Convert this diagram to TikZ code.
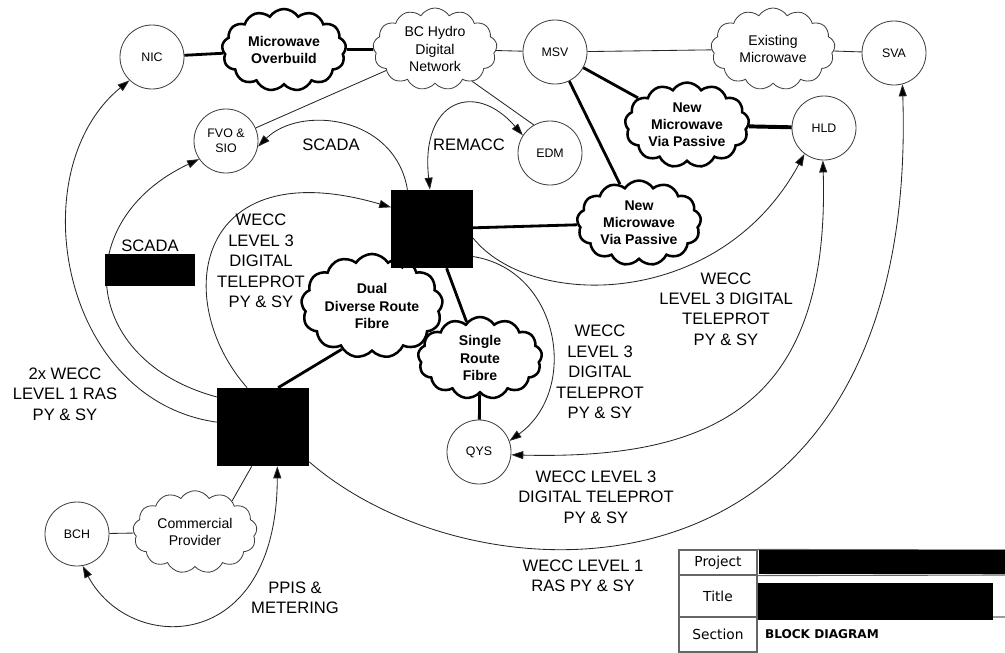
\documentclass[tikz,border=0pt]{standalone}
\usepackage{fontspec}
\setmainfont{Liberation Sans}
\newfontfamily\tabfont{DejaVu Sans}
\usetikzlibrary{positioning, arrows.meta, shapes.symbols}

\begin{document}
\begin{tikzpicture}[x=0.025cm, y=-0.025cm,
    site/.style={circle, draw=black!75, line width=0.6pt, minimum size=1.6cm, inner sep=0pt,
                 align=center, font=\fontsize{8.8}{10.6}\selectfont},
    netcloud/.style={cloud, cloud puffs=13, cloud puff arc=115, aspect=1.5, draw=black!75,
                  line width=0.6pt, minimum width=3.1cm, minimum height=2.05cm, inner sep=0pt,
                  align=center, font=\fontsize{10}{12.4}\selectfont},
    newcloud/.style={netcloud, draw=black, line width=1.8pt,
                  font=\fontsize{10}{12.2}\selectfont\bfseries},
    redact/.style={fill=black, inner sep=0pt},
    lbl/.style={align=center, inner sep=0pt, font=\fontsize{11.8}{14.5}\selectfont},
    trunk/.style={line width=2pt},
    link/.style={line width=0.6pt, draw=black!85},
    arr/.style={link, -{Triangle[length=3mm, width=2mm, fill=black]}},
    biarr/.style={link, {Triangle[length=3mm, width=2mm, fill=black]}-{Triangle[length=3mm, width=2mm, fill=black]}},
    cell/.style={draw=black!60, line width=0.8pt, minimum width=1.95cm, inner sep=0pt,
                 font=\tabfont\fontsize{9.8}{11}\selectfont},
    tabline/.style={draw=black!60, line width=0.8pt},
]
\useasboundingbox (0,0) rectangle (1005,652);

% Stations
\node[site] (nic) at (152,57)  {NIC};
\node[site] (fvo) at (226,141) {FVO \&\\SIO};
\node[site] (msv) at (555,52)  {MSV};
\node[site] (edm) at (550,153) {EDM};
\node[site] (sva) at (894,53)  {SVA};
\node[site] (hld) at (824,128) {HLD};
\node[site] (qys) at (479,452) {QYS};
\node[site] (bch) at (77,534)  {BCH};

% Networks
\node[newcloud] (mwo)   at (284,50)  {Microwave\\Overbuild};
\node[netcloud] (bchd)  at (435,49)  {BC Hydro\\Digital\\Network};
\node[netcloud] (exmw)  at (773,49)  {Existing\\Microwave};
\node[newcloud] (nmvp1) at (687,125) {New\\Microwave\\Via Passive};
\node[newcloud] (nmvp2) at (639,223) {New\\Microwave\\Via Passive};
\node[newcloud] (ddrf)  at (372,306) {Dual\\Diverse Route\\Fibre};
\node[newcloud] (srf)   at (480,358) {Single\\Route\\Fibre};
\node[netcloud] (comm)  at (195,532) {Commercial\\Provider};

% Redacted substations
\node[redact, minimum width=2.025cm, minimum height=1.95cm] (ubox) at (432,229) {};
\node[redact, minimum width=2.3cm, minimum height=1.95cm]   (lbox) at (263,427) {};

% Links
\draw[trunk] (nic) -- (mwo);
\draw[trunk] (mwo) -- (bchd);
\draw[link] (bchd) -- (msv);
\draw[link] (msv) -- (exmw);
\draw[link] (exmw) -- (sva);
\draw[trunk] (msv) -- (nmvp1);
\draw[trunk, line width=2.8pt] (nmvp1) -- (hld);
\draw[trunk] (msv) -- (nmvp2);
\draw[trunk] (ubox) -- (nmvp2);
\draw[trunk] (ubox) -- (ddrf);
\draw[trunk] (ubox) -- (srf);
\draw[trunk] (lbox.69) -- (ddrf.235);
\draw[trunk] (srf) -- (qys);
\draw[link] (bchd) -- (fvo);
\draw[link] (bchd.-41) -- (edm.120);
\draw[link] (bch) -- (comm);
\draw[link] (comm.40) -- (lbox.254);

% Services
\draw[arr] (ubox.122) .. controls (395,115) and (300,105) .. (fvo.-10);
\draw[biarr] (ubox.93) .. controls (420,100) and (475,80) .. (edm.147);
\draw[arr] (lbox.112) .. controls (170,300) and (195,150) .. (ubox.152);
\draw[arr] (lbox.147) .. controls (80,360) and (70,220) .. (fvo.214);
\draw[arr] (lbox.174) .. controls (60,400) and (20,170) .. (nic.226);
\draw[arr] (ubox.-12) .. controls (530,310) and (720,310) .. (hld.233);
\draw[arr] (ubox.-34) .. controls (560,270) and (580,390) .. (qys.20);
\draw[biarr] (hld.268) .. controls (830,400) and (720,460) .. (qys.-5);
\draw[arr] (lbox.-37) .. controls (480,610) and (920,620) .. (sva.-75);
\draw[biarr] (bch.-80) .. controls (130,655) and (277,655) .. (lbox.-70);

\node[redact, minimum width=2.225cm, minimum height=0.8cm] (sbox) at (150,270) {};

% Service labels
\node[lbl] (scadaa) at (331,145) {SCADA};
\node[lbl] (remacc) at (469,145) {REMACC};
\node[lbl, above=0.05cm of sbox] (scadab) {SCADA};
\node[lbl] (tpa) at (261,261) {WECC\\LEVEL 3\\DIGITAL\\TELEPROT\\PY \& SY};
\node[lbl] (rasa) at (65,394) {2x WECC\\LEVEL 1 RAS\\PY \& SY};
\node[lbl] (tpb) at (600,372) {WECC\\LEVEL 3\\DIGITAL\\TELEPROT\\PY \& SY};
\node[lbl] (tpc) at (726,309) {WECC\\LEVEL 3 DIGITAL\\TELEPROT\\PY \& SY};
\node[lbl] (tpd) at (596,497) {WECC LEVEL 3\\DIGITAL TELEPROT\\PY \& SY};
\node[lbl] (rasb) at (583,576) {WECC LEVEL 1\\RAS PY \& SY};
\node[lbl] (ppis) at (295,598) {PPIS \&\\METERING};

% Title block
\node[cell, minimum height=0.625cm] (prj) at (718,562.5) {Project};
\node[cell, minimum height=1.05cm]  (ttl) at (718,596)   {Title};
\node[cell, minimum height=0.875cm] (sec) at (718,634.5) {Section};
\draw[tabline] (prj.north east) -- (1005,550);
\draw[tabline] (prj.south east) -- (1005,575);
\draw[tabline] (ttl.south east) -- (1005,617);
\node[redact, minimum width=6.15cm, minimum height=0.6cm]   (prjbar) at (882,562) {};
\node[redact, minimum width=5.875cm, minimum height=0.925cm] (ttlbar) at (875.5,601.5) {};
\node[right=0.18cm of sec, inner sep=0pt, font=\tabfont\bfseries\fontsize{8.6}{10}\selectfont] (secval) {BLOCK DIAGRAM};

\end{tikzpicture}
\end{document}
